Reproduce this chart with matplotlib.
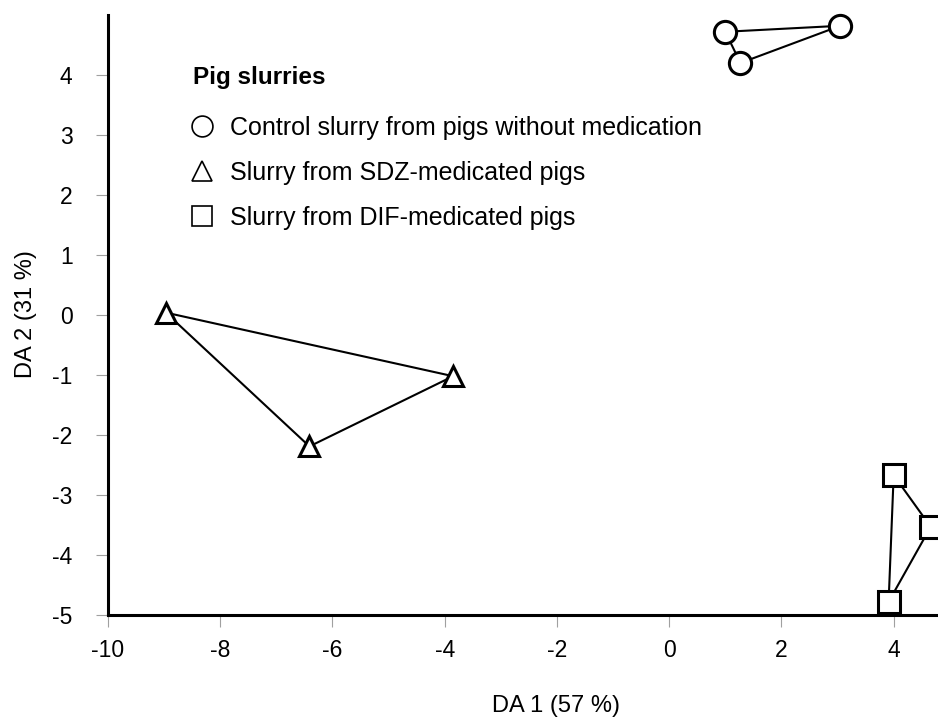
import matplotlib
matplotlib.use("Agg")
import matplotlib.pyplot as plt

plt.rcParams['font.family'] = ['Liberation Sans', 'DejaVu Sans']
plt.rcParams['axes.unicode_minus'] = False

# discriminant scores for the three slurry groups
ctrl_x = [1.0, 1.27, 3.05]
ctrl_y = [4.72, 4.20, 4.82]
sdz_x = [-8.97, -6.41, -3.85]
sdz_y = [0.04, -2.19, -1.02]
dif_x = [4.0, 4.66, 3.91]
dif_y = [-2.67, -3.53, -4.78]

group_labels = ["Control slurry from pigs without medication",
                "Slurry from SDZ-medicated pigs",
                "Slurry from DIF-medicated pigs"]
x_ticks = [-10, -8, -6, -4, -2, 0, 2, 4]
y_ticks = [-5, -4, -3, -2, -1, 0, 1, 2, 3, 4]

fig = plt.figure(figsize=(9.38, 7.2), dpi=100)
ax = fig.add_axes([0.1151, 0.1458, 0.8849, 0.8334])

groups = [(ctrl_x, ctrl_y, 'o', 16), (sdz_x, sdz_y, '^', 14.5), (dif_x, dif_y, 's', 16)]
for gx, gy, mk, ms in groups:
    # close each group into a triangle
    ax.plot(gx + gx[:1], gy + gy[:1], color='black', lw=1.5, zorder=3, clip_on=False)
    ax.plot(gx, gy, linestyle='none', marker=mk, ms=ms, mfc='white', mec='black',
            mew=2.2, zorder=4, clip_on=False)

ax.set_xlim(-10, 4.79)
ax.set_ylim(-5, 5)
ax.set_xticks(x_ticks)
ax.set_yticks(y_ticks)
ax.tick_params(direction='out', length=8.5, width=0.8, color='#a0a0a0',
               labelsize=16.5, labelcolor='black')
ax.tick_params(axis='y', pad=17)
ax.tick_params(axis='x', pad=9)

for side in ['top', 'right']:
    ax.spines[side].set_visible(False)
for side in ['left', 'bottom']:
    ax.spines[side].set_linewidth(2.2)
    ax.spines[side].set_color('black')

fig.text(0.593, 0.02, "DA 1 (57 %)", fontsize=17, ha='center', va='center')
fig.text(0.0277, 0.564, "DA 2 (31 %)", fontsize=17, ha='center', va='center', rotation=90)

# key in the upper left corner
ax.text(0.1024, 0.895, "Pig slurries", transform=ax.transAxes, fontsize=17.5,
        fontweight='bold', ha='left', va='center')
key_rows = [0.8117, 0.7367, 0.6617]
for yk, mk, lab in zip(key_rows, ['o', '^', 's'], group_labels):
    ax.plot([0.1133], [yk + 0.004], transform=ax.transAxes, linestyle='none', marker=mk,
            ms=15, mfc='white', mec='black', mew=1.2, clip_on=False)
    ax.text(0.147, yk, lab, transform=ax.transAxes, fontsize=18, ha='left', va='center')

fig.savefig("out.png", dpi=100)
